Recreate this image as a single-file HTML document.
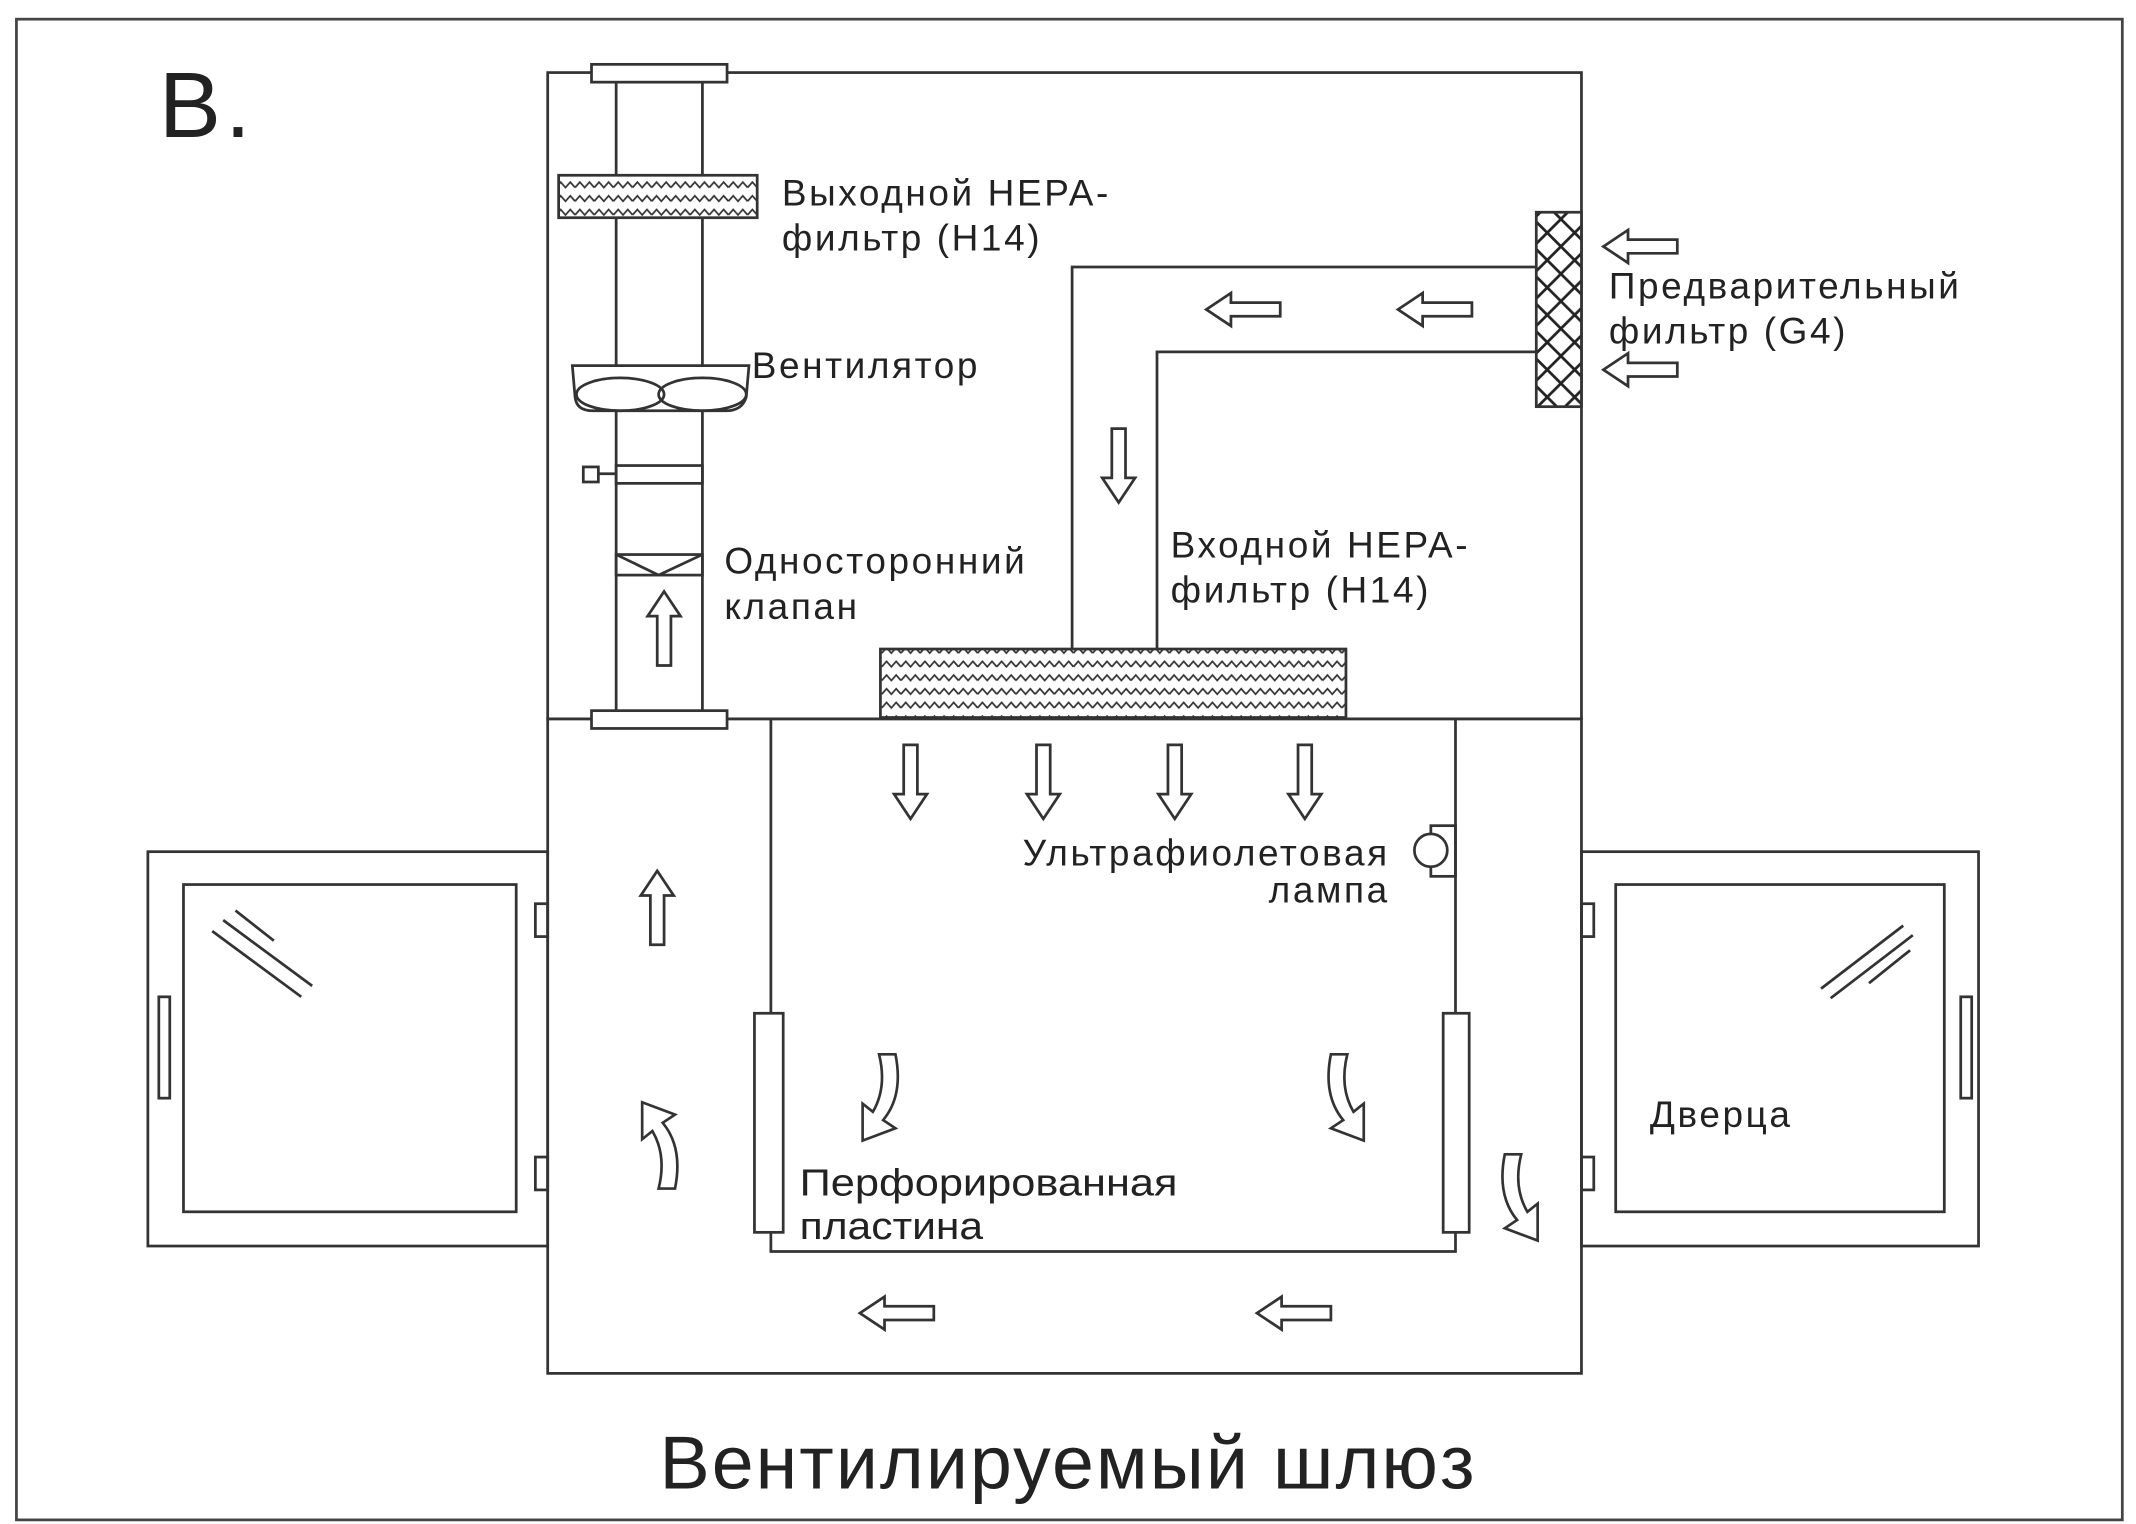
<!DOCTYPE html>
<html><head><meta charset="utf-8"><style>
html,body{margin:0;padding:0;background:#fff;}
svg{display:block;}
text{font-family:"Liberation Sans","DejaVu Sans",sans-serif;fill:#222;}
.l{font-size:27px;letter-spacing:1.9px;}
</style></head><body>
<svg width="2136" height="1524" viewBox="0 0 1560 1113" preserveAspectRatio="none" xmlns="http://www.w3.org/2000/svg">
<defs>
<pattern id="zz" width="14" height="10" patternUnits="userSpaceOnUse">
<rect width="14" height="10" fill="#fff"/>
<path d="M0 7 L3.5 3 L7 7 L10.5 3 L14 7" fill="none" stroke="#333" stroke-width="1.3"/>
</pattern>
<pattern id="xh" width="20" height="20" patternUnits="userSpaceOnUse">
<rect width="20" height="20" fill="#fff"/>
<path d="M0 0 L20 20 M20 0 L0 20" stroke="#222" stroke-width="2"/>
</pattern>
<path id="ar" d="M0 -27 L12 -9 L5 -9 L5 27 L-5 27 L-5 -9 L-12 -9 Z" fill="#fff" stroke="#333" stroke-width="2"/>
<path id="cv" d="M-4 -22 L4 -22 Q8 -2 -2 10 L4 14 L-12 20 L-12 2 L-7 6 Q0 -6 -4 -22 Z" fill="#fff" stroke="#333" stroke-width="1.3"/>
</defs>
<g fill="none" stroke="#333" stroke-width="2">
<rect x="12" y="14" width="1538" height="1096" stroke="#444"/>
<rect x="400" y="53" width="755" height="472"/>
<rect x="400" y="525" width="755" height="478"/>
<line x1="450" y1="60" x2="450" y2="519"/>
<line x1="513" y1="60" x2="513" y2="519"/>
<rect x="432" y="47" width="99" height="13" fill="#fff"/>
<rect x="432" y="519" width="99" height="13" fill="#fff"/>
<rect x="408" y="128" width="145" height="31" fill="url(#zz)"/>
<path d="M418 267 L547 267 L545 290 Q542 300 530 300 L433 300 Q421 300 420 290 Z" fill="#fff"/>
<ellipse cx="453" cy="288" rx="32" ry="12"/>
<ellipse cx="513" cy="288" rx="32" ry="12"/>
<rect x="450" y="340" width="63" height="13"/>
<rect x="426" y="341" width="11" height="11"/>
<line x1="437" y1="346" x2="450" y2="346"/>
<rect x="450" y="405" width="63" height="15"/>
<path d="M450 405 L481 420 L513 405"/>
<polyline points="783,474 783,195 1122,195"/>
<polyline points="845,474 845,257 1122,257"/>
<rect x="643" y="474" width="340" height="50" fill="url(#zz)"/>
<rect x="1122" y="155" width="33" height="142" fill="url(#xh)"/>
<polyline points="563,525 563,914 1063,914 1063,525"/>
<rect x="551" y="740" width="21" height="160" fill="#fff"/>
<rect x="1054" y="740" width="19" height="160" fill="#fff"/>
<rect x="1045" y="603" width="18" height="37"/>
<circle cx="1045" cy="621" r="12" fill="#fff"/>
<rect x="108" y="622" width="292" height="288"/>
<rect x="134" y="646" width="243" height="239"/>
<rect x="116" y="728" width="8" height="74"/>
<rect x="391" y="660" width="9" height="24"/>
<rect x="391" y="845" width="9" height="24"/>
<line x1="155" y1="680" x2="220" y2="728"/>
<line x1="163" y1="672" x2="228" y2="720"/>
<line x1="172" y1="665" x2="200" y2="687"/>
<rect x="1155" y="622" width="290" height="288"/>
<rect x="1180" y="646" width="240" height="239"/>
<rect x="1432" y="728" width="8" height="74"/>
<rect x="1155" y="660" width="9" height="24"/>
<rect x="1155" y="845" width="9" height="24"/>
<line x1="1330" y1="722" x2="1390" y2="676"/>
<line x1="1337" y1="729" x2="1397" y2="683"/>
<line x1="1365" y1="718" x2="1395" y2="694"/>
</g>
<use href="#ar" transform="translate(485,459)"/>
<use href="#ar" transform="translate(817,340) rotate(180)"/>
<use href="#ar" transform="translate(908,226) rotate(-90)"/>
<use href="#ar" transform="translate(1048,226) rotate(-90)"/>
<use href="#ar" transform="translate(1198,180) rotate(-90)"/>
<use href="#ar" transform="translate(1198,270) rotate(-90)"/>
<use href="#ar" transform="translate(665,571) rotate(180)"/>
<use href="#ar" transform="translate(762,571) rotate(180)"/>
<use href="#ar" transform="translate(858,571) rotate(180)"/>
<use href="#ar" transform="translate(953,571) rotate(180)"/>
<use href="#ar" transform="translate(480,663)"/>
<use href="#ar" transform="translate(655,959) rotate(-90)"/>
<use href="#ar" transform="translate(945,959) rotate(-90)"/>
<use href="#cv" transform="translate(648,803) scale(1.5)"/>
<use href="#cv" transform="translate(978,803) scale(-1.5,1.5)"/>
<use href="#cv" transform="translate(487,835) rotate(180) scale(-1.5,1.5)"/>
<use href="#cv" transform="translate(1105,876) scale(-1.5,1.5)"/>
<text x="116" y="100" font-size="68" fill="#444" letter-spacing="3">B.</text>
<text class="l" x="571" y="150">Выходной HEPA-</text>
<text class="l" x="571" y="183">фильтр (H14)</text>
<text class="l" x="549" y="276">Вентилятор</text>
<text class="l" x="529" y="419">Односторонний</text>
<text class="l" x="529" y="452">клапан</text>
<text class="l" x="855" y="407">Входной HEPA-</text>
<text class="l" x="855" y="440">фильтр (H14)</text>
<text class="l" x="1175" y="218">Предварительный</text>
<text class="l" x="1175" y="251">фильтр (G4)</text>
<text class="l" x="1015" y="632" text-anchor="end">Ультрафиолетовая</text>
<text class="l" x="1015" y="659" text-anchor="end">лампа</text>
<text x="584" y="873" font-size="28" textLength="276" lengthAdjust="spacingAndGlyphs">Перфорированная</text>
<text x="584" y="905" font-size="28" textLength="134" lengthAdjust="spacingAndGlyphs">пластина</text>
<text class="l" x="1205" y="823">Дверца</text>
<text x="780" y="1087" font-size="55" letter-spacing="1.5" text-anchor="middle">Вентилируемый шлюз</text>
</svg>
</body></html>
